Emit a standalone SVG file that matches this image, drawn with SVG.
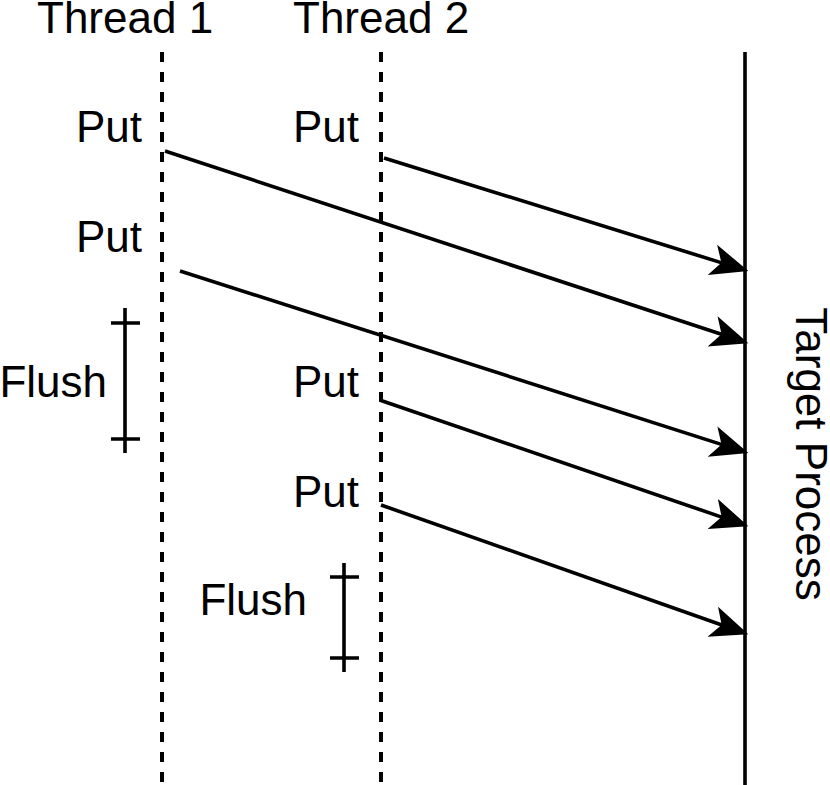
<svg xmlns="http://www.w3.org/2000/svg" width="830" height="785" viewBox="0 0 830 785">
<style>
text{font-family:"Liberation Sans",Arial,sans-serif;font-size:44px;fill:#000}
.dash{stroke:#000;stroke-width:4;stroke-dasharray:10 10;fill:none}
.solid{stroke:#000;stroke-width:3.6;fill:none}
.msg{stroke:#000;stroke-width:3.6;fill:none;marker-end:url(#arr)}
</style>
<defs>
<marker id="arr" markerUnits="userSpaceOnUse" markerWidth="40" markerHeight="40" viewBox="0 -15 34 30" refX="12" refY="0" orient="auto">
<path d="M0,-13.5 L32,0 L0,13.5 L8,0 Z" fill="#000"/>
</marker>
</defs>
<g id="thread1">
<text x="37" y="33">Thread 1</text>
<line class="dash" x1="162" y1="52" x2="162" y2="785"/>
</g>
<g id="thread2">
<text x="293" y="33">Thread 2</text>
<line class="dash" x1="381" y1="52" x2="381" y2="785"/>
</g>
<g id="target">
<line class="solid" x1="745" y1="52" x2="745" y2="785"/>
<text transform="translate(796,454) rotate(90)" text-anchor="middle">Target Process</text>
</g>
<g id="put1"><text x="142" y="142" text-anchor="end">Put</text></g>
<g id="put2"><text x="359" y="142" text-anchor="end">Put</text></g>
<g id="put3"><text x="142" y="252" text-anchor="end">Put</text></g>
<g id="put4"><text x="359" y="397" text-anchor="end">Put</text></g>
<g id="put5"><text x="359" y="507" text-anchor="end">Put</text></g>
<g id="flush1">
<text x="107" y="397" text-anchor="end">Flush</text>
<path class="solid" d="M125,308 V453 M111,323 H140 M111,439 H140"/>
</g>
<g id="flush2">
<text x="307" y="615" text-anchor="end">Flush</text>
<path class="solid" d="M344,563 V672 M330,577 H359 M330,658 H359"/>
</g>
<g id="connectors">
<line class="msg" x1="165" y1="151" x2="726" y2="335.8"/>
<line class="msg" x1="384" y1="158" x2="725.9" y2="264.1"/>
<line class="msg" x1="180" y1="271" x2="726" y2="445.9"/>
<line class="msg" x1="381" y1="400.5" x2="726.1" y2="518.6"/>
<line class="msg" x1="381" y1="505" x2="726.1" y2="626.5"/>
</g>
</svg>
